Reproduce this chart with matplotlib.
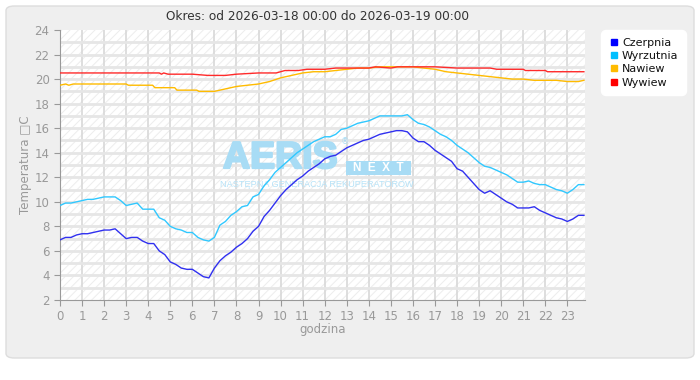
import matplotlib
matplotlib.use("Agg")
import matplotlib.pyplot as plt
import matplotlib.patheffects as pe
from matplotlib.patches import FancyBboxPatch, Rectangle
from matplotlib.lines import Line2D

# godziny co 15 minut (0.00 .. 23.75)
hours = [i / 4 for i in range(96)]

czerpnia = [
    6.9, 7.1, 7.1, 7.3, 7.4, 7.4, 7.5, 7.6, 7.7, 7.7, 7.8, 7.4,
    7.0, 7.1, 7.1, 6.8, 6.6, 6.6, 6.0, 5.7, 5.1, 4.9, 4.6, 4.5,
    4.5, 4.2, 3.9, 3.8, 4.6, 5.2, 5.6, 5.9, 6.3, 6.6, 7.0, 7.6,
    8.0, 8.8, 9.3, 9.9, 10.5, 11.0, 11.4, 11.8, 12.1, 12.5, 12.8, 13.1,
    13.5, 13.7, 13.8, 14.1, 14.4, 14.6, 14.8, 15.0, 15.1, 15.3, 15.5, 15.6,
    15.7, 15.8, 15.8, 15.7, 15.2, 14.9, 14.9, 14.6, 14.2, 13.9, 13.6, 13.3,
    12.7, 12.5, 12.0, 11.5, 11.0, 10.7, 10.9, 10.6, 10.3, 10.0, 9.8, 9.5,
    9.5, 9.5, 9.6, 9.3, 9.1, 8.9, 8.7, 8.6, 8.4, 8.6, 8.9, 8.9,
]

wyrzutnia = [
    9.7, 9.9, 9.9, 10.0, 10.1, 10.2, 10.2, 10.3, 10.4, 10.4, 10.4, 10.1,
    9.7, 9.8, 9.9, 9.4, 9.4, 9.4, 8.7, 8.5, 8.0, 7.8, 7.7, 7.5,
    7.5, 7.1, 6.9, 6.8, 7.1, 8.1, 8.4, 8.9, 9.2, 9.6, 9.7, 10.4,
    10.6, 11.3, 11.8, 12.4, 12.8, 13.2, 13.6, 14.0, 14.3, 14.6, 14.9, 15.1,
    15.3, 15.3, 15.5, 15.9, 16.0, 16.2, 16.4, 16.5, 16.6, 16.8, 17.0, 17.0,
    17.0, 17.0, 17.0, 17.1, 16.7, 16.4, 16.3, 16.1, 15.8, 15.5, 15.3, 15.0,
    14.6, 14.3, 14.0, 13.6, 13.2, 12.9, 12.8, 12.6, 12.4, 12.2, 11.9, 11.6,
    11.6, 11.7, 11.5, 11.4, 11.4, 11.2, 11.0, 10.9, 10.7, 11.0, 11.4, 11.4,
]

nawiew_h = [0, 0.25, 0.4, 0.6, 3.0, 3.1, 4.2, 4.3, 5.2, 5.3, 6.2, 6.3, 7.0, 7.5,
            8.0, 8.5, 9.0, 9.5, 10.0, 10.5, 11.0, 11.5, 12.0, 12.5, 13.0, 13.5,
            14.0, 14.5, 15.0, 16.0, 16.5, 17.0, 17.5, 18.0, 18.5, 19.0, 19.5,
            20.0, 20.5, 21.0, 21.5, 22.0, 22.5, 23.0, 23.5, 23.75]
nawiew = [19.5, 19.6, 19.5, 19.6, 19.6, 19.5, 19.5, 19.3, 19.3, 19.1, 19.1, 19.0,
          19.0, 19.2, 19.4, 19.5, 19.6, 19.8, 20.1, 20.3, 20.5, 20.6, 20.6, 20.7,
          20.8, 20.9, 20.9, 21.0, 21.0, 21.0, 20.9, 20.8, 20.6, 20.5, 20.4, 20.3,
          20.2, 20.1, 20.0, 20.0, 19.9, 19.9, 19.9, 19.8, 19.8, 19.9]

wywiew_h = [0, 4.5, 4.6, 4.7, 4.9, 6.0, 6.7, 7.5, 8.0, 9.0, 9.8, 10.2, 10.8, 11.2,
            12.0, 12.5, 14.0, 14.3, 15.0, 15.3, 17.0, 18.0, 19.5, 19.8, 20.0,
            21.0, 21.1, 22.0, 22.1, 23.75]
wywiew = [20.5, 20.5, 20.4, 20.5, 20.4, 20.4, 20.3, 20.3, 20.4, 20.5, 20.5, 20.7,
          20.7, 20.8, 20.8, 20.9, 20.9, 21.0, 20.9, 21.0, 21.0, 20.9, 20.9, 20.8,
          20.8, 20.8, 20.7, 20.7, 20.6, 20.6]

series = [
    ("Czerpnia", hours, czerpnia, "#3030f0", "#0000ff"),
    ("Wyrzutnia", hours, wyrzutnia, "#30c8ff", "#00bfff"),
    ("Nawiew", nawiew_h, nawiew, "#ffbb00", "#ffbb00"),
    ("Wywiew", wywiew_h, wywiew, "#ff2a2a", "#ff0000"),
]

x_ticks = list(range(24))
y_ticks = list(range(2, 25, 2))

plt.rcParams["hatch.linewidth"] = 0.7
plt.rcParams["hatch.color"] = "#ededed"

fig = plt.figure(figsize=(7, 3.8), dpi=100)
fig.patch.set_facecolor("white")

# szare tlo panelu
panel = FancyBboxPatch((6 / 700, 22 / 380), 688 / 700, 352 / 380,
                       boxstyle="round,pad=0,rounding_size=0.012",
                       transform=fig.transFigure, facecolor="#efefef",
                       edgecolor="#dddddd", linewidth=1.0, zorder=-10)
fig.add_artist(panel)

ax = fig.add_axes([60 / 700, 80 / 380, 525 / 700, 270 / 380])
ax.set_facecolor("white")
ax.add_patch(Rectangle((0, 0), 1, 1, transform=ax.transAxes, facecolor="white",
                       edgecolor="#ededed", hatch="////", linewidth=0, zorder=0))

for h in x_ticks[1:]:
    ax.axvline(h, color="#d8d8d8", lw=1.2, zorder=1)
for v in range(3, 24):
    ax.axhline(v, color="#e6e6e6", lw=2.0, zorder=1)


def px(x, y):
    # piksele obrazka -> wspolrzedne osi
    return (x - 60) / 525, 1 - (y - 30) / 270


# znak wodny
wm = "#a8dcf5"
ax.text(*px(223, 158), "AERIS", transform=ax.transAxes,
        fontsize=27, fontweight="bold", color=wm, zorder=2,
        ha="left", va="center", family="Liberation Sans",
        path_effects=[pe.Stroke(linewidth=1.6, foreground=wm), pe.Normal()])
ax.text(*px(341, 142), "\u00ae", transform=ax.transAxes,
        fontsize=6, color=wm, zorder=2, ha="left", va="center")
ax.add_patch(Rectangle(px(346, 175), 65 / 525, 14 / 270,
                       transform=ax.transAxes, facecolor=wm, edgecolor="none",
                       zorder=2))
ax.text(*px(378, 168), "N  E  X  T", transform=ax.transAxes,
        fontsize=8.5, fontweight="bold", color="white", zorder=3,
        ha="center", va="center", family="Liberation Sans")
ax.text(*px(317, 184), "NASTĘPNA GENERACJA REKUPERATORÓW",
        transform=ax.transAxes, fontsize=6.6, color="#b6e2f7", zorder=2,
        ha="center", va="center", family="Liberation Sans")

for name, xs, ys, col, _ in series:
    ax.plot(xs, ys, color=col, lw=1.0, zorder=4)

ax.set_xlim(0, 23.8)
ax.set_ylim(2, 24)
ax.set_xticks(x_ticks)
ax.set_yticks(y_ticks)
ax.tick_params(colors="#999999", labelcolor="#999999", labelsize=8.5,
               length=4, direction="out")
for side in ["top", "right"]:
    ax.spines[side].set_visible(False)
for side in ["left", "bottom"]:
    ax.spines[side].set_color("#999999")
ax.set_xlabel("godzina", color="#999999", fontsize=8.5, labelpad=0)
ax.set_ylabel("Temperatura \u25a1C", color="#999999", fontsize=8.5, labelpad=2)

fig.text(317 / 700, 1 - 17 / 380,
         "Okres: od 2026-03-18 00:00 do 2026-03-19 00:00",
         ha="center", va="center", fontsize=8.7, color="#333333")

handles = [Line2D([], [], marker="s", linestyle="none", markersize=5,
                  color=leg_col, label=name)
           for name, _, _, _, leg_col in series]
leg = fig.legend(handles=handles, loc="upper left",
                 bbox_to_anchor=(598 / 700, 1 - 27 / 380),
                 frameon=True, fontsize=8, handletextpad=0.2,
                 labelspacing=0.3, borderpad=0.45, handlelength=1.0)
leg.get_frame().set_facecolor("white")
leg.get_frame().set_edgecolor("white")
leg.get_frame().set_alpha(1.0)
leg.get_frame().set_boxstyle("round,pad=0.2,rounding_size=0.4")
for t in leg.get_texts():
    t.set_color("#111111")

fig.savefig("out.png", dpi=100)
